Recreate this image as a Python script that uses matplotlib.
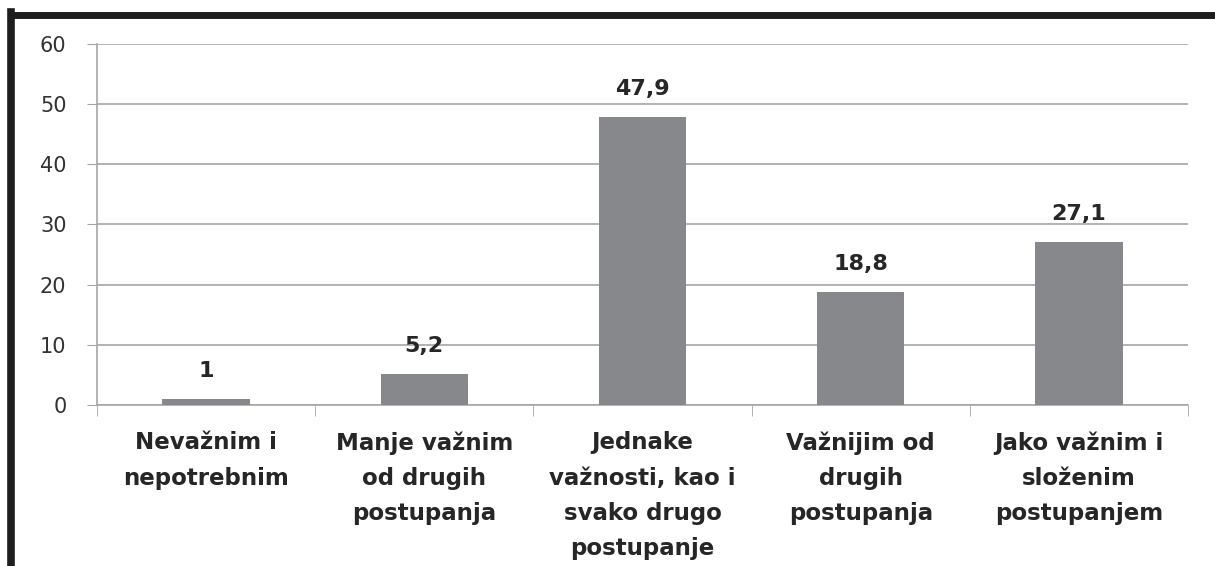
import matplotlib.pyplot as plt
from matplotlib.lines import Line2D

categories = ["Nevažnim i\nnepotrebnim", "Manje važnim\nod drugih\npostupanja",
              "Jednake\nvažnosti, kao i\nsvako drugo\npostupanje",
              "Važnijim od\ndrugih\npostupanja", "Jako važnim i\nsloženim\npostupanjem"]
values = [1, 5.2, 47.9, 18.8, 27.1]
value_labels = ["1", "5,2", "47,9", "18,8", "27,1"]

fig = plt.figure(figsize=(12.15, 5.66), dpi=100)
ax = fig.add_axes([0.0798, 0.2845, 0.898, 0.6378])

x = list(range(len(values)))
ax.bar(x, values, width=0.4, color="#87888c", zorder=3)
for xi, v, lab in zip(x, values, value_labels):
    ax.text(xi, v + 3.0, lab, ha="center", va="bottom", fontsize=16,
            fontweight="bold", color="#262626")

ax.set_xlim(-0.5, len(values) - 0.5)
ax.set_ylim(0, 60)
ax.set_yticks(range(0, 61, 10))
ax.yaxis.grid(True, color="#a6a6a6", linewidth=1.2, zorder=0)
ax.tick_params(axis="y", length=7, color="#a6a6a6", labelsize=15,
               labelcolor="#333333", pad=15)

ax.set_xticks([i - 0.5 for i in range(len(values) + 1)], minor=True)
ax.set_xticks(x)
ax.set_xticklabels(categories, fontsize=16.5, fontweight="bold",
                   color="#262626", linespacing=1.68)
ax.tick_params(axis="x", which="major", length=0, pad=19)
ax.tick_params(axis="x", which="minor", length=8, color="#a6a6a6")

for s in ["top", "right"]:
    ax.spines[s].set_visible(False)
for s in ["left", "bottom"]:
    ax.spines[s].set_color("#a6a6a6")
    ax.spines[s].set_linewidth(1.2)

# thick frame on top and left
fig.add_artist(Line2D([11 / 1215, 1.0], [1 - 15 / 566, 1 - 15 / 566],
                      color="#1e1e1e", linewidth=5, transform=fig.transFigure))
fig.add_artist(Line2D([11 / 1215, 11 / 1215], [0, 1 - 12 / 566],
                      color="#1e1e1e", linewidth=5.5, transform=fig.transFigure))

fig.savefig("out.png", dpi=100)
